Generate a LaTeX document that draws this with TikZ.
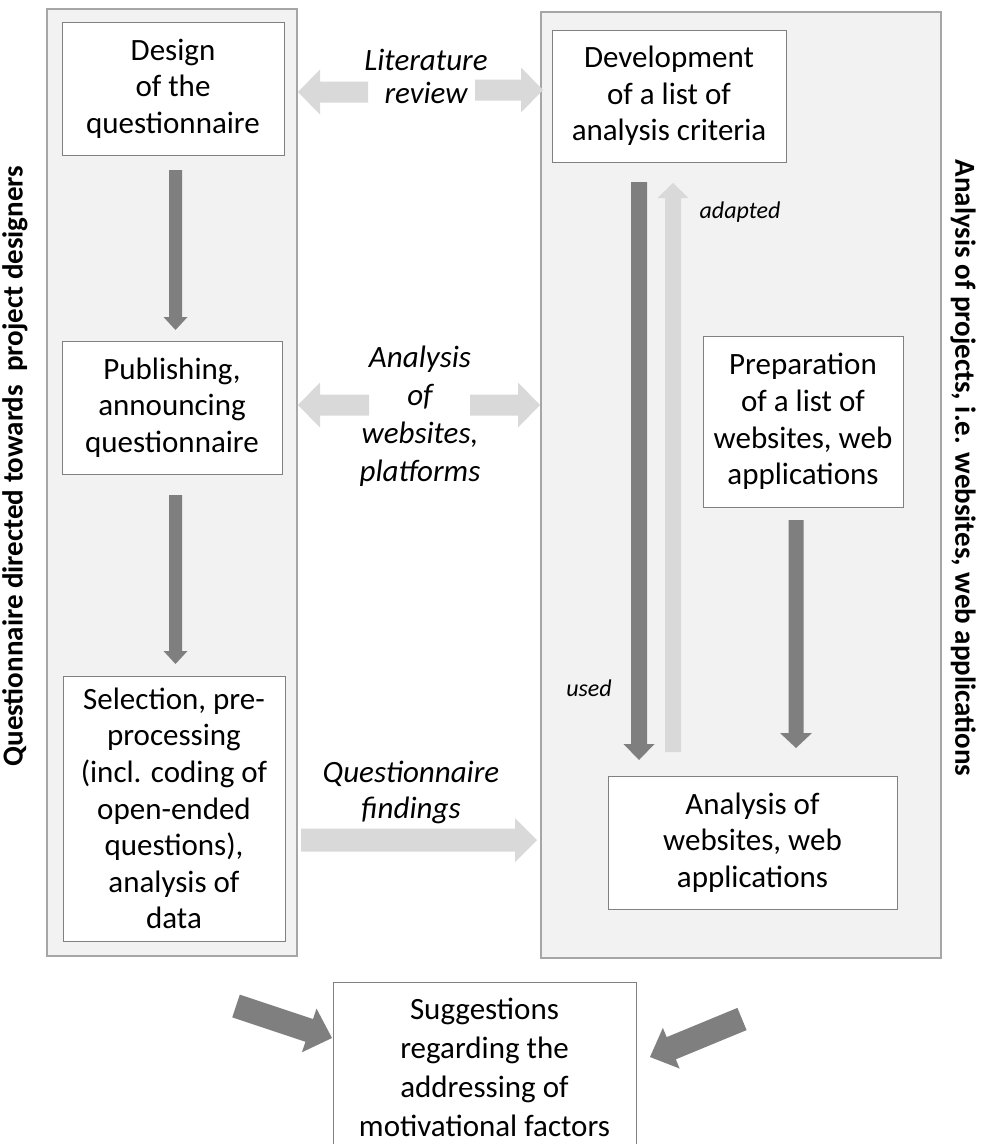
\documentclass[tikz,border=0pt]{standalone}
\usepackage{fontspec}
\setmainfont{Carlito}
\usetikzlibrary{calc}
\definecolor{panelfill}{HTML}{F2F2F2}
\definecolor{panelline}{HTML}{A6A6A6}
\definecolor{boxline}{HTML}{808080}
\definecolor{darkarrow}{HTML}{7F7F7F}
\definecolor{lightarrow}{HTML}{D9D9D9}
% #1 style, #2 start, #3 tip, #4 body half width, #5 head half width, #6 head length
\newcommand{\blockarrow}[6]{%
  \coordinate (tmpbase) at ($(#3)!#6!(#2)$);
  \fill[#1] ($(#2)!#4!90:(#3)$) -- ($(tmpbase)!#4!90:(#3)$) -- ($(tmpbase)!#5!90:(#3)$) -- (#3)
    -- ($(tmpbase)!#5!-90:(#3)$) -- ($(tmpbase)!#4!-90:(#3)$) -- ($(#2)!#4!-90:(#3)$) -- cycle;}
\begin{document}
\begin{tikzpicture}[x=1pt,y=-1pt,
  panel/.style={draw=panelline, fill=panelfill, line width=1.2pt, inner sep=0pt},
  box/.style={draw=boxline, fill=white, line width=1pt, align=center, inner sep=0pt,
    font=\fontsize{31}{36.6}\selectfont},
  lbl/.style={align=center, inner sep=0pt, font=\itshape\fontsize{31}{33}\selectfont},
  small/.style={inner sep=0pt, font=\itshape\fontsize{24}{28}\selectfont},
  side/.style={inner sep=0pt, font=\bfseries\fontsize{29}{34}\selectfont},
  dark/.style={fill=darkarrow},
  light/.style={fill=lightarrow}]
\useasboundingbox (0,0) rectangle (988,1144);
\fill[white] (0,0) rectangle (988,1144);

% panels
\node[panel, minimum width=250pt, minimum height=947pt] (lp) at (172,482.5) {};
\node[panel, minimum width=400pt, minimum height=946pt] (rp) at (741,485) {};

% boxes
\node[box, minimum width=222pt, minimum height=133pt] (design) at (173,88.5) {Design\\of the\\questionnaire};
\node[box, minimum width=220pt, minimum height=133pt] (publish) at (172,407.5) {Publishing,\\announcing\\questionnaire};
\node[box, minimum width=222pt, minimum height=265pt] (select) at (174,808.5) {Selection, pre-\\processing\\(incl. coding of\\open-ended\\questions),\\analysis of\\data};
\node[box, minimum width=234pt, minimum height=132pt] (develop) at (669,96) {Development\\of a list of\\analysis criteria};
\node[box, minimum width=200pt, minimum height=171pt] (prep) at (803,421.5) {Preparation\\of a list of\\websites, web\\applications};
\node[box, minimum width=289pt, minimum height=133pt] (anal) at (752.5,842.5) {Analysis of\\websites, web\\applications};
\node[box, minimum width=303pt, minimum height=170pt, font=\fontsize{31}{39}\selectfont] (suggest) at (484.5,1067) {Suggestions\\regarding the\\addressing of\\motivational factors};

% labels
\node[lbl] (lit) at (426,76) {Literature\\review};
\node[lbl, font=\itshape\fontsize{31}{38}\selectfont] (aow) at (420,416) {Analysis\\of\\websites,\\platforms};
\node[lbl, font=\itshape\fontsize{31}{36}\selectfont] (qf) at (411,792) {Questionnaire\\findings};
\node[small] (adapted) at (740,212) {adapted};
\node[small] (used) at (589,688) {used};
\node[side, rotate=90] (lside) at (15,466) {Questionnaire directed towards\ \ project designers};
\node[side, rotate=-90] (rside) at (963,468) {Analysis of projects, i.e. websites, web applications};

% arrow end points
\coordinate (a1s) at (175.5,170); \coordinate (a1e) at (175.5,330);
\coordinate (a2s) at (175.5,495); \coordinate (a2e) at (175.5,664);
\coordinate (a3s) at (639,182);   \coordinate (a3e) at (639,760);
\coordinate (a4s) at (673,752);   \coordinate (a4e) at (673,183);
\coordinate (a5s) at (796,520);   \coordinate (a5e) at (796,748);
\coordinate (l1s) at (368,92);    \coordinate (l1e) at (298,92);
\coordinate (l2s) at (475,90);    \coordinate (l2e) at (543,90);
\coordinate (w1s) at (369,405);   \coordinate (w1e) at (298,405);
\coordinate (w2s) at (470,405);   \coordinate (w2e) at (540,405);
\coordinate (fs) at (301,840);    \coordinate (fe) at (537,840);
\coordinate (b1s) at (236,1006);  \coordinate (b1e) at (332,1038);
\coordinate (b2s) at (742,1019);  \coordinate (b2e) at (650,1057);

\blockarrow{dark}{a1s}{a1e}{6.5pt}{12pt}{13pt}
\blockarrow{dark}{a2s}{a2e}{6.5pt}{12pt}{13pt}
\blockarrow{dark}{a3s}{a3e}{8pt}{15.5pt}{16pt}
\blockarrow{light}{a4s}{a4e}{8pt}{15.5pt}{15pt}
\blockarrow{dark}{a5s}{a5e}{7.5pt}{16pt}{15pt}
\blockarrow{light}{l1s}{l1e}{10.5pt}{22.5pt}{22pt}
\blockarrow{light}{l2s}{l2e}{10.5pt}{22.5pt}{22pt}
\blockarrow{light}{w1s}{w1e}{10.5pt}{22.5pt}{22pt}
\blockarrow{light}{w2s}{w2e}{10.5pt}{22.5pt}{22pt}
\blockarrow{light}{fs}{fe}{11.5pt}{22pt}{22pt}
\blockarrow{dark}{b1s}{b1e}{12pt}{23pt}{24pt}
\blockarrow{dark}{b2s}{b2e}{12pt}{22pt}{23pt}
\end{tikzpicture}
\end{document}
